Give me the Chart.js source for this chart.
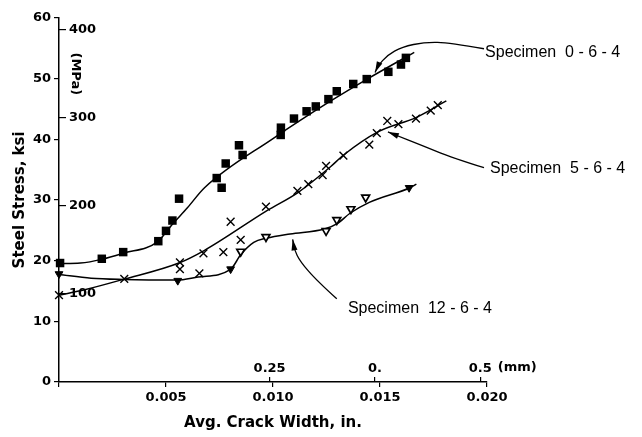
<!DOCTYPE html>
<html>
<head>
<meta charset="utf-8">
<script src="https://cdn.jsdelivr.net/npm/chart.js@4.4.1/dist/chart.umd.min.js"></script>
<style>
  html, body { margin: 0; padding: 0; background: #fff; }
  #wrap { width: 642px; height: 437px; }
</style>
</head>
<body>
<div id="wrap"><canvas id="chart" width="642" height="437"></canvas></div>
<script>
// 裂縫寬度 (in.) vs 鋼筋應力 (ksi)

// Specimen 0-6-4 : 實心方塊
const sq064 = [
    [0.00005, 19.6], [0.0020, 20.3], [0.0030, 21.4], [0.00464, 23.2], [0.0050, 24.9],
    [0.0053, 26.6], [0.00561, 30.2], [0.0076, 32.0], [0.00737, 33.6], [0.00779, 36.0],
    [0.00841, 39.0], [0.00858, 37.4], [0.01036, 40.7], [0.01037, 41.9], [0.01098, 43.4],
    [0.01157, 44.6], [0.0120, 45.4], [0.01259, 46.6], [0.01298, 47.9], [0.01375, 49.1],
    [0.01438, 49.9], [0.01539, 51.1], [0.01598, 52.3], [0.01621, 53.4]
];
const curve064 = [
    [0, 19.5], [0.001, 19.6], [0.002, 20.2], [0.003, 21.2], [0.0046, 23.1], [0.0053, 26.0],
    [0.006, 28.7], [0.0068, 32.0], [0.010, 40.1], [0.0127, 46.3], [0.0144, 49.9], [0.0166, 54.3]
];

// Specimen 5-6-4 : 叉號
const x564 = [
    [0, 14.3], [0.00305, 17.0], [0.00565, 19.7], [0.00565, 18.6], [0.00656, 17.9],
    [0.00675, 21.2], [0.00768, 21.4], [0.00849, 23.4], [0.00802, 26.4], [0.00967, 28.9],
    [0.01114, 31.5], [0.01165, 32.6], [0.01232, 34.1], [0.01248, 35.6], [0.01329, 37.3],
    [0.0145, 39.1], [0.01485, 41.0], [0.01534, 43.0], [0.01586, 42.5], [0.01668, 43.4],
    [0.01737, 44.7], [0.0177, 45.6]
];
const curve564 = [
    [0, 14.3], [0.0012, 15.2], [0.003, 16.9], [0.0056, 19.6], [0.0068, 21.7], [0.0097, 28.2],
    [0.0112, 31.3], [0.0127, 35.5], [0.0133, 37.4], [0.0149, 41.2], [0.0167, 43.6], [0.0181, 46.3]
];

// Specimen 12-6-4 : 倒三角 (實心 / 空心)
const tri1264Filled = [[0, 17.8], [0.00555, 16.7], [0.00802, 18.6], [0.01636, 32.0]];
const tri1264Open = [
    [0.00849, 21.5], [0.00967, 23.9], [0.01248, 24.9], [0.01298, 26.7], [0.01364, 28.5], [0.01433, 30.4]
];
const curve1264 = [
    [0, 17.7], [0.0015, 17.1], [0.003, 16.9], [0.0055, 16.8], [0.0065, 17.3], [0.008, 18.5],
    [0.0085, 21.0], [0.0091, 23.0], [0.0097, 23.7], [0.0108, 24.4], [0.0124, 25.2], [0.0130, 26.1],
    [0.0136, 27.8], [0.0145, 29.6], [0.0164, 32.0], [0.0167, 32.6]
];

// 刻度
const xTicks = [0, 0.005, 0.010, 0.015, 0.020];     // in.
const mmTicks = [0.25, 0.375, 0.5];                  // mm
const mmLabels = ['0.25', '0.', '0.5'];
const mpaTicks = [100, 200, 300, 400];               // MPa
const KSI_TO_MPA = 6.895;
const IN_TO_MM = 25.4;

// 標註 (資料座標)
const notes = [
    { text: 'Specimen  0 - 6 - 4', at: [0.01991, 54.2],
      leader: [[0.01986, 54.9], [0.01827, 55.9], [0.01710, 56.0], [0.01603, 55.2], [0.01533, 53.8], [0.01491, 52.1], [0.01477, 51.0]] },
    { text: 'Specimen  5 - 6 - 4', at: [0.02014, 35.1],
      leader: [[0.01986, 35.3], [0.01841, 36.9], [0.01687, 39.1], [0.01579, 40.6], [0.01537, 41.2]] },
    { text: 'Specimen  12 - 6 - 4', at: [0.01350, 12.1],
      leader: [[0.01298, 13.7], [0.01204, 16.7], [0.01126, 19.9], [0.01100, 21.8], [0.01092, 23.5]] }
];

const toPts = arr => arr.map(p => ({ x: p[0], y: p[1] }));
const tickFont = { family: 'DejaVu Sans', size: 13, weight: 'bold' };
const titleFont = { family: 'DejaVu Sans', size: 15, weight: 'bold' };

function curveSet(data) {
    return {
        data: toPts(data), showLine: true, pointRadius: 0, borderColor: '#000',
        borderWidth: 1.5, cubicInterpolationMode: 'monotone', order: 2
    };
}

function smoothPath(ctx, p) {
    ctx.beginPath();
    ctx.moveTo(p[0][0], p[0][1]);
    for (let i = 1; i < p.length - 1; i++) {
        const mx = (p[i][0] + p[i + 1][0]) / 2, my = (p[i][1] + p[i + 1][1]) / 2;
        ctx.quadraticCurveTo(p[i][0], p[i][1], mx, my);
    }
    const l = p[p.length - 1];
    ctx.lineTo(l[0], l[1]);
    ctx.stroke();
    // 箭頭
    const a = p[p.length - 2];
    const ang = Math.atan2(l[1] - a[1], l[0] - a[0]);
    ctx.beginPath();
    ctx.moveTo(l[0], l[1]);
    ctx.lineTo(l[0] - 11 * Math.cos(ang) + 3 * Math.sin(ang), l[1] - 11 * Math.sin(ang) - 3 * Math.cos(ang));
    ctx.lineTo(l[0] - 11 * Math.cos(ang) - 3 * Math.sin(ang), l[1] - 11 * Math.sin(ang) + 3 * Math.cos(ang));
    ctx.closePath();
    ctx.fill();
}

const annotate = {
    id: 'annotate',
    afterDraw(chart) {
        const { ctx, scales: { x, y, x2, y2 } } = chart;
        ctx.save();
        ctx.fillStyle = '#000';
        ctx.strokeStyle = '#000';
        ctx.lineWidth = 1.3;

        notes.forEach(n => {
            smoothPath(ctx, n.leader.map(p => [x.getPixelForValue(p[0]), y.getPixelForValue(p[1])]));
            ctx.font = '16px "Liberation Sans"';
            ctx.textAlign = 'left';
            ctx.textBaseline = 'middle';
            ctx.fillText(n.text, x.getPixelForValue(n.at[0]), y.getPixelForValue(n.at[1]));
        });

        // (MPa)
        ctx.font = 'bold 13px "DejaVu Sans"';
        ctx.save();
        ctx.translate(x.getPixelForValue(0.00075), y2.getPixelForValue(350));
        ctx.rotate(Math.PI / 2);
        ctx.textAlign = 'center';
        ctx.textBaseline = 'middle';
        ctx.fillText('(MPa)', 0, 0);
        ctx.restore();

        // (mm)
        ctx.font = 'bold 13px "DejaVu Sans"';
        const w = ctx.measureText('0.5').width;
        ctx.textAlign = 'left';
        ctx.textBaseline = 'middle';
        ctx.fillText('(mm)', x2.getPixelForValue(0.5) + w / 2 + 6, x2.top - 14);
        ctx.restore();
    }
};

new Chart(document.getElementById('chart').getContext('2d'), {
    type: 'scatter',
    data: {
        datasets: [
            curveSet(curve064),
            curveSet(curve564),
            curveSet(curve1264),
            { data: toPts(sq064), pointStyle: 'rect', pointRadius: 6, backgroundColor: '#000',
              borderColor: '#000', borderWidth: 0, order: 1, clip: false },
            { data: toPts(x564), pointStyle: 'crossRot', pointRadius: 5.5, borderColor: '#000',
              borderWidth: 1.4, order: 1, clip: false },
            { data: toPts(tri1264Open), pointStyle: 'triangle', rotation: 180, pointRadius: 4.5,
              backgroundColor: '#fff', borderColor: '#000', borderWidth: 1.7, order: 1, clip: false },
            { data: toPts(tri1264Filled), pointStyle: 'triangle', rotation: 180, pointRadius: 4.5,
              backgroundColor: '#000', borderColor: '#000', borderWidth: 1, order: 1, clip: false }
        ]
    },
    options: {
        responsive: false,
        animation: false,
        layout: { padding: { top: 15, right: 155, left: 0, bottom: 0 } },
        plugins: { legend: { display: false }, tooltip: { enabled: false } },
        scales: {
            x: {
                type: 'linear', position: 'bottom', weight: 1, min: 0, max: 0.020,
                afterBuildTicks: s => { s.ticks = xTicks.map(v => ({ value: v })); },
                afterFit: s => { s.height = 55; },
                ticks: { callback: v => v === 0 ? '' : v.toFixed(3), font: tickFont, color: '#000',
                         padding: 3, maxRotation: 0, minRotation: 0, autoSkip: false },
                grid: { drawOnChartArea: false, tickLength: 5, color: '#000', lineWidth: 1.2 },
                border: { color: '#000', width: 1.5 },
                title: { display: true, text: 'Avg. Crack Width, in.', font: titleFont, color: '#000',
                         padding: { top: 0, bottom: 5 } }
            },
            x2: {
                type: 'linear', position: 'bottom', weight: 0, min: 0, max: 0.020 * IN_TO_MM,
                afterBuildTicks: s => { s.ticks = mmTicks.map(v => ({ value: v })); },
                afterFit: s => { s.height = 0; },
                ticks: { mirror: true, padding: 6, callback: (v, i) => mmLabels[i], font: tickFont,
                         color: '#000', maxRotation: 0, minRotation: 0, autoSkip: false },
                grid: { drawOnChartArea: false, tickLength: -5, color: '#000', lineWidth: 1.2 },
                border: { display: false }
            },
            y: {
                type: 'linear', position: 'left', weight: 1, min: 0, max: 60,
                afterFit: s => { s.width = 59; },
                ticks: { stepSize: 10, font: tickFont, color: '#000', padding: 3 },
                grid: { drawOnChartArea: false, tickLength: 5, color: '#000', lineWidth: 1.2 },
                border: { color: '#000', width: 1.5 },
                title: { display: true, text: 'Steel Stress, ksi', font: titleFont, color: '#000',
                         padding: { top: 11, bottom: 0 } }
            },
            y2: {
                type: 'linear', position: 'left', weight: 0, min: 0, max: 60 * KSI_TO_MPA,
                afterBuildTicks: s => { s.ticks = mpaTicks.map(v => ({ value: v })); },
                afterFit: s => { s.width = 0; },
                ticks: { mirror: true, padding: 10, font: tickFont, color: '#000' },
                grid: { drawOnChartArea: false, tickLength: -7, color: '#000', lineWidth: 1.2 },
                border: { display: false }
            }
        }
    },
    plugins: [annotate]
});
</script>
</body>
</html>
